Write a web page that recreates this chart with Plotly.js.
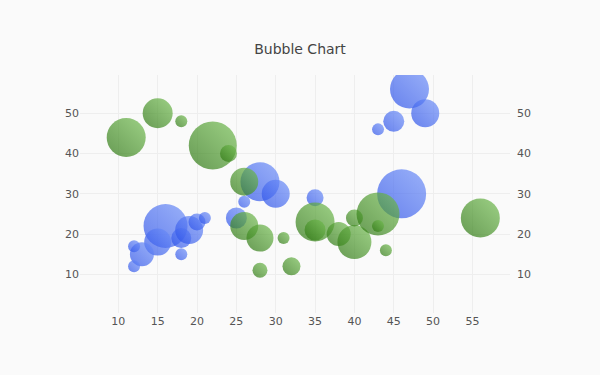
<!DOCTYPE html>
<html>
<head>
<meta charset="utf-8">
<script src="https://cdn.plot.ly/plotly-3.0.1.min.js"></script>
<style>html,body{margin:0;padding:0;background:#fafafa;}#chart{width:600px;height:375px;}</style>
</head>
<body>
<div id="chart"></div>
<script>
// Blue series
var blueX = [16, 15, 13, 12, 12, 18, 19, 20, 21, 18, 26, 25, 28, 30, 35, 46, 47, 49, 45, 43];
var blueY = [22, 18, 15, 17, 12, 19, 21, 23, 24, 15, 28, 24, 33, 30, 29, 30, 56, 50, 48, 46];
var blueSize = [44, 27, 24, 12, 12, 20, 28, 17, 12, 12, 12, 21, 39, 28, 17, 49, 39, 28, 21, 12];
// Green series
var greenX = [11, 15, 18, 22, 24, 26, 26, 28, 28, 31, 32, 35, 35, 38, 40, 40, 43, 43, 44, 56];
var greenY = [44, 50, 48, 42, 40, 33, 22, 19, 11, 19, 12, 23, 21, 20, 18, 24, 25, 22, 16, 24];
var greenSize = [39, 30, 12, 48, 17, 28, 28, 27, 15, 12, 18, 39, 21, 24, 34, 17, 43, 12, 12, 39];

var xTicks = [10, 15, 20, 25, 30, 35, 40, 45, 50, 55];
var yTicks = [10, 20, 30, 40, 50];

function bubbleTrace(x, y, s, dark, light) {
  return {
    type: 'scatter', mode: 'markers', x: x, y: y, hoverinfo: 'x+y',
    marker: {
      size: s, sizemode: 'diameter', sizeref: 1,
      color: dark, opacity: 0.7,
      line: {width: 0},
      gradient: {type: 'horizontal', color: light}
    }
  };
}

var data = [
  bubbleTrace(blueX, blueY, blueSize, 'rgb(40,78,232)', 'rgb(112,145,248)'),
  bubbleTrace(greenX, greenY, greenSize, 'rgb(40,114,12)', 'rgb(116,190,82)'),
  // invisible carrier so the mirrored right-hand axis is drawn
  {type: 'scatter', mode: 'markers', x: greenX, y: greenY, yaxis: 'y2', hoverinfo: 'skip', marker: {opacity: 0, size: 1}}
];

var fam = 'Verdana, "DejaVu Sans", sans-serif';
var yrange = [0.4, 59.5];
var layout = {
  width: 600, height: 375,
  paper_bgcolor: '#fafafa', plot_bgcolor: '#fafafa',
  showlegend: false,
  font: {family: fam, size: 11, color: '#555'},
  title: {text: 'Bubble Chart', font: {family: fam, size: 14, color: '#444'}, x: 0.5, xanchor: 'center', y: 0.87, yanchor: 'middle'},
  margin: {l: 80, r: 90, t: 75, b: 62},
  xaxis: {range: [5.13, 59.77], tickvals: xTicks, ticktext: xTicks.map(String), gridcolor: '#eeeeee', zeroline: false, showline: false, ticks: ''},
  yaxis: {range: yrange, tickvals: yTicks, ticktext: yTicks.map(String), gridcolor: '#eeeeee', zeroline: false, showline: false, ticks: ''},
  yaxis2: {range: yrange, tickvals: yTicks, ticktext: yTicks.map(String), overlaying: 'y', side: 'right', showgrid: false, zeroline: false, showline: false, ticks: '', ticklabelstandoff: 6}
};

function lum(c) {
  var m = (c || '').match(/[\d.]+/g);
  if (!m) return 0;
  return (+m[0]) + (+m[1]) + (+m[2]);
}

Plotly.newPlot('chart', data, layout, {displayModeBar: false, staticPlot: true}).then(function (gd) {
  var grads = gd.querySelectorAll('linearGradient');
  grads.forEach(function (g) {
    var stops = g.querySelectorAll('stop');
    if (stops.length < 2) return;
    var c0 = stops[0].getAttribute('stop-color') || stops[0].style.stopColor;
    var c1 = stops[stops.length - 1].getAttribute('stop-color') || stops[stops.length - 1].style.stopColor;
    if (lum(c0) > lum(c1)) {
      g.setAttribute('x1', '1'); g.setAttribute('y1', '0');
      g.setAttribute('x2', '0'); g.setAttribute('y2', '1');
    } else {
      g.setAttribute('x1', '0'); g.setAttribute('y1', '1');
      g.setAttribute('x2', '1'); g.setAttribute('y2', '0');
    }
  });
});
</script>
</body>
</html>
